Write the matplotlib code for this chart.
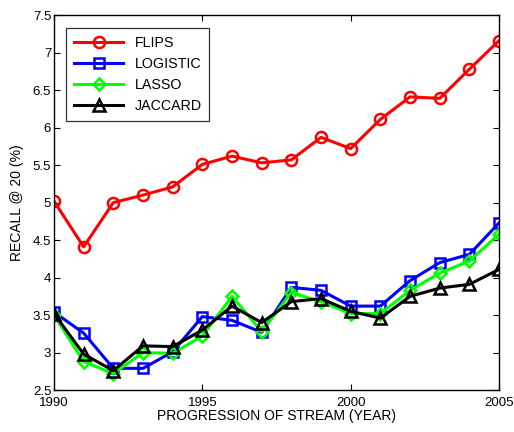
import matplotlib
matplotlib.use("Agg")
import matplotlib.pyplot as plt

plt.rcParams['font.family'] = ['Liberation Sans', 'DejaVu Sans']

years = list(range(1990, 2006))
flips = [5.02, 4.41, 5.00, 5.10, 5.21, 5.51, 5.62, 5.53, 5.57, 5.87, 5.72, 6.11, 6.41, 6.39, 6.78, 7.16]
logistic = [3.54, 3.26, 2.79, 2.79, 3.01, 3.48, 3.43, 3.27, 3.87, 3.83, 3.62, 3.62, 3.96, 4.20, 4.31, 4.73]
lasso = [3.50, 2.88, 2.72, 3.00, 2.99, 3.22, 3.75, 3.28, 3.80, 3.68, 3.52, 3.52, 3.83, 4.06, 4.22, 4.58]
jaccard = [3.52, 2.98, 2.76, 3.09, 3.08, 3.30, 3.62, 3.40, 3.68, 3.72, 3.55, 3.46, 3.75, 3.86, 3.91, 4.11]

series = [
    ("FLIPS", flips, "#ff0000", "o", 8),
    ("LOGISTIC", logistic, "#0000ff", "s", 7.5),
    ("LASSO", lasso, "#00ff00", "D", 6.5),
    ("JACCARD", jaccard, "#000000", "^", 9),
]

fig = plt.figure(figsize=(5.14, 4.32), dpi=100)
ax = fig.add_axes([0.105, 0.097, 0.866, 0.868])

for name, vals, color, marker, ms in series:
    ax.plot(years, vals, color=color, marker=marker, markersize=ms,
            markerfacecolor="none", markeredgecolor=color, markeredgewidth=1.8,
            linewidth=2.2, label=name)

ax.set_xlim(1990, 2005)
ax.set_ylim(2.5, 7.5)
ax.set_xticks([1990, 1995, 2000, 2005])
ax.set_yticks([2.5, 3, 3.5, 4, 4.5, 5, 5.5, 6, 6.5, 7, 7.5])
ax.set_yticklabels(["2.5", "3", "3.5", "4", "4.5", "5", "5.5", "6", "6.5", "7", "7.5"])
ax.tick_params(direction="in", top=True, right=True, labelsize=9.5, length=4, width=0.8)
ax.tick_params(axis="x", pad=5)
ax.tick_params(axis="y", pad=2)
for s in ax.spines.values():
    s.set_linewidth(1.0)

ax.set_xlabel("PROGRESSION OF STREAM (YEAR)", fontsize=10, labelpad=0)
ax.set_ylabel("RECALL @ 20 (%)", fontsize=10, labelpad=6)

leg = ax.legend(loc="upper left", fontsize=10.3, frameon=True, fancybox=False,
                edgecolor="black", handlelength=3.4, borderpad=0.55,
                labelspacing=0.5, bbox_to_anchor=(0.012, 0.985))
leg.get_frame().set_linewidth(0.9)

fig.savefig("out.png", dpi=100)
